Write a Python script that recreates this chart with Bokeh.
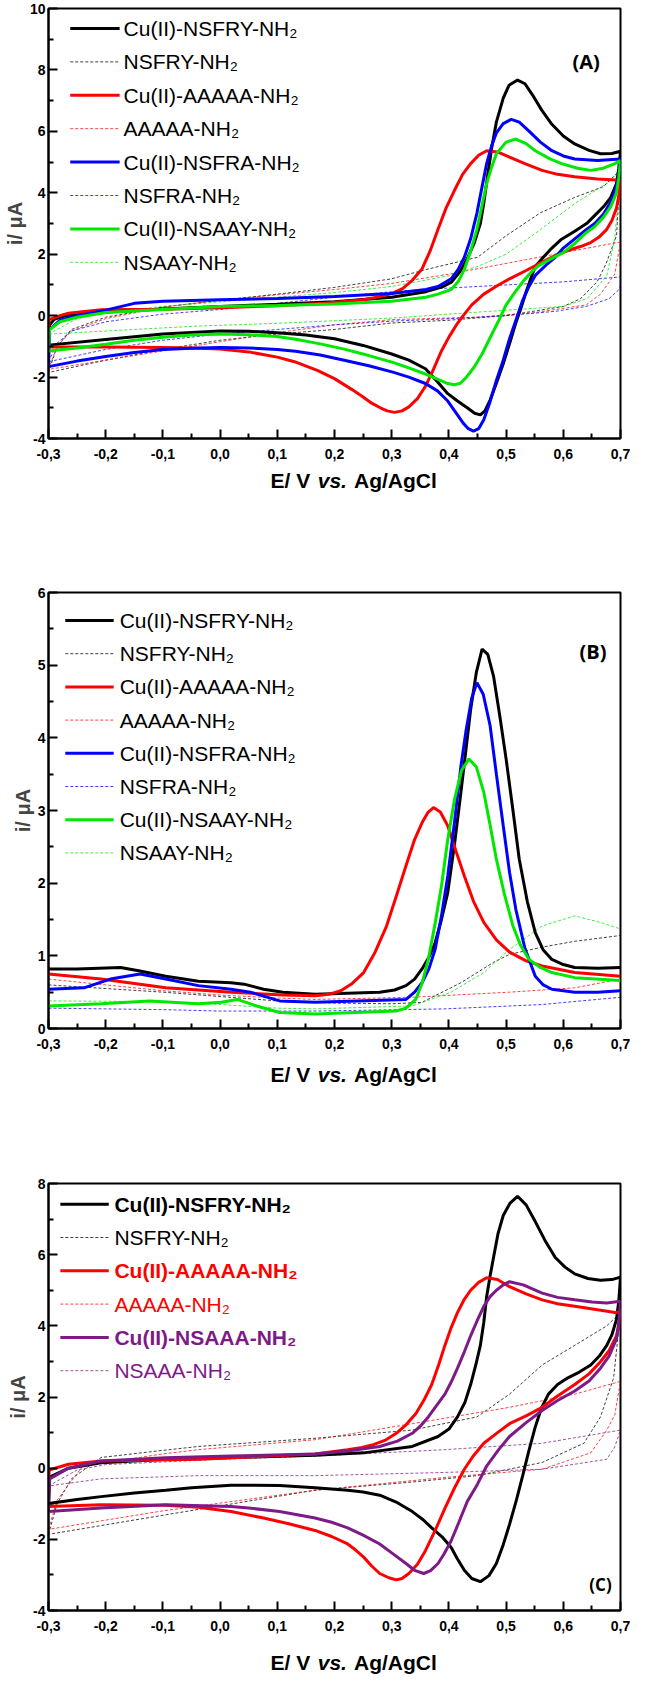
from bokeh.plotting import figure
from bokeh.models import FixedTicker, CustomJSTickFormatter, Label
from bokeh.layouts import column
from bokeh.core.properties import value
from bokeh.embed import file_html
from bokeh.resources import INLINE

# ---------------- DATA ----------------
X_TICKS = [-0.3, -0.2, -0.1, 0.0, 0.1, 0.2, 0.3, 0.4, 0.5, 0.6, 0.7]
X_MINOR = [-0.25, -0.15, -0.05, 0.05, 0.15, 0.25, 0.35, 0.45, 0.55, 0.65]
A_Y_TICKS = [-4, -2, 0, 2, 4, 6, 8, 10]
A_Y_MINOR = [-3, -1, 1, 3, 5, 7, 9]
B_Y_TICKS = [0, 1, 2, 3, 4, 5, 6]
B_Y_MINOR = [0.5, 1.5, 2.5, 3.5, 4.5, 5.5]
C_Y_TICKS = [-4, -2, 0, 2, 4, 6, 8]
C_Y_MINOR = [-3, -1, 1, 3, 5, 7]

X_TITLE = ["E/ V", "vs.", "Ag/AgCl"]
Y_TITLE = "i/ \u03bcA"

# Panel A: cyclic voltammograms (E / V, i / uA), forward then reverse scan
A_CU_NSFRY_E = [-0.3, -0.298, -0.29, -0.27, -0.2, -0.1, 0.0, 0.1, 0.2, 0.3, 0.36, 0.39, 0.405, 0.42, 0.432, 0.444, 0.455, 0.461, 0.468, 0.475, 0.483, 0.495, 0.505, 0.52, 0.533, 0.546, 0.562, 0.58, 0.6, 0.62, 0.645, 0.665, 0.685, 0.7,
                0.697, 0.693, 0.683, 0.671, 0.656, 0.642, 0.62, 0.597, 0.58, 0.565, 0.551, 0.543, 0.535, 0.527, 0.518, 0.507, 0.495, 0.483, 0.472, 0.463, 0.455, 0.445, 0.432, 0.415, 0.398, 0.38, 0.359, 0.33, 0.3, 0.25, 0.2, 0.15, 0.1, 0.05, 0.0, -0.1, -0.2, -0.3]
A_CU_NSFRY_I = [-0.96, -0.3, -0.12, 0.0, 0.12, 0.22, 0.3, 0.37, 0.45, 0.6, 0.78, 0.95, 1.1, 1.45, 1.85, 2.35, 3.0, 3.66, 4.6, 5.48, 6.3, 7.08, 7.5, 7.67, 7.55, 7.19, 6.7, 6.23, 5.85, 5.59, 5.38, 5.27, 5.28, 5.35,
                4.8, 4.3, 3.85, 3.56, 3.28, 3.02, 2.75, 2.49, 2.2, 1.9, 1.6, 1.2, 0.78, 0.3, -0.18, -0.85, -1.57, -2.2, -2.75, -3.1, -3.23, -3.18, -3.0, -2.78, -2.54, -2.15, -1.73, -1.45, -1.25, -0.97, -0.75, -0.63, -0.56, -0.51, -0.5, -0.6, -0.78, -0.96]
A_CU_AAAAA_E = [-0.3, -0.299, -0.28, -0.265, -0.208, -0.1, 0.0, 0.1, 0.183, 0.25, 0.279, 0.3, 0.319, 0.336, 0.353, 0.367, 0.381, 0.395, 0.41, 0.424, 0.438, 0.452, 0.466, 0.485, 0.506, 0.535, 0.563, 0.59, 0.62, 0.66, 0.7,
                0.697, 0.693, 0.685, 0.676, 0.662, 0.648, 0.63, 0.608, 0.585, 0.563, 0.535, 0.506, 0.485, 0.461, 0.44, 0.425, 0.415, 0.4, 0.387, 0.373, 0.359, 0.345, 0.33, 0.318, 0.305, 0.292, 0.28, 0.265, 0.25, 0.23, 0.2, 0.17, 0.13, 0.1, 0.05, 0.0, -0.05, -0.1, -0.2, -0.3]
A_CU_AAAAA_I = [-1.02, -0.13, 0.0, 0.08, 0.19, 0.21, 0.26, 0.32, 0.4, 0.52, 0.62, 0.72, 0.88, 1.15, 1.52, 2.1, 2.81, 3.5, 4.09, 4.6, 4.95, 5.22, 5.37, 5.33, 5.16, 4.93, 4.73, 4.6, 4.52, 4.45, 4.41,
                3.9, 3.5, 3.1, 2.81, 2.55, 2.38, 2.25, 2.12, 1.95, 1.74, 1.47, 1.2, 0.98, 0.7, 0.35, 0.0, -0.25, -0.7, -1.15, -1.75, -2.3, -2.7, -2.97, -3.1, -3.15, -3.1, -3.0, -2.85, -2.65, -2.4, -2.05, -1.78, -1.5, -1.35, -1.18, -1.09, -1.05, -1.04, -1.02, -1.02]
A_CU_NSFRA_E = [-0.3, -0.298, -0.28, -0.25, -0.2, -0.15, -0.1, 0.0, 0.1, 0.2, 0.3, 0.36, 0.381, 0.404, 0.416, 0.427, 0.438, 0.449, 0.458, 0.466, 0.475, 0.483, 0.495, 0.509, 0.523, 0.54, 0.56, 0.58, 0.6, 0.62, 0.66, 0.7,
                0.697, 0.693, 0.683, 0.67, 0.655, 0.64, 0.62, 0.6, 0.586, 0.57, 0.551, 0.54, 0.529, 0.518, 0.506, 0.495, 0.483, 0.472, 0.461, 0.452, 0.443, 0.434, 0.425, 0.41, 0.398, 0.38, 0.359, 0.33, 0.302, 0.26, 0.217, 0.175, 0.132, 0.1, 0.05, 0.0, -0.05, -0.1, -0.15, -0.2, -0.25, -0.3]
A_CU_NSFRA_I = [-1.66, -0.45, -0.15, 0.0, 0.18, 0.4, 0.47, 0.52, 0.56, 0.62, 0.72, 0.85, 0.95, 1.2, 1.5, 1.9, 2.5, 3.34, 4.2, 4.95, 5.55, 5.95, 6.25, 6.39, 6.3, 6.01, 5.65, 5.37, 5.2, 5.1, 5.05, 5.1,
                4.6, 4.2, 3.7, 3.3, 3.0, 2.8, 2.5, 2.2, 1.9, 1.65, 1.31, 0.95, 0.5, -0.1, -0.75, -1.45, -2.11, -2.8, -3.39, -3.68, -3.76, -3.68, -3.5, -3.1, -2.78, -2.45, -2.21, -2.0, -1.84, -1.63, -1.45, -1.28, -1.16, -1.1, -1.05, -1.04, -1.06, -1.1, -1.2, -1.33, -1.48, -1.66]
A_CU_NSAAY_E = [-0.3, -0.298, -0.28, -0.25, -0.2, -0.1, 0.0, 0.1, 0.2, 0.3, 0.36, 0.381, 0.404, 0.416, 0.427, 0.438, 0.449, 0.458, 0.466, 0.475, 0.483, 0.5, 0.517, 0.535, 0.551, 0.575, 0.597, 0.625, 0.648, 0.67, 0.69, 0.7,
                0.697, 0.693, 0.683, 0.67, 0.655, 0.64, 0.62, 0.6, 0.578, 0.557, 0.543, 0.529, 0.515, 0.5, 0.486, 0.472, 0.458, 0.444, 0.43, 0.42, 0.41, 0.398, 0.38, 0.359, 0.33, 0.302, 0.26, 0.217, 0.175, 0.132, 0.1, 0.05, 0.0, -0.05, -0.1, -0.15, -0.2, -0.25, -0.3]
A_CU_NSAAY_I = [-1.15, -0.45, -0.2, -0.05, 0.1, 0.2, 0.3, 0.33, 0.38, 0.47, 0.6, 0.7, 0.85, 1.1, 1.5, 2.1, 2.81, 3.6, 4.3, 4.85, 5.27, 5.65, 5.75, 5.6, 5.37, 5.12, 4.95, 4.8, 4.73, 4.8, 4.95, 5.05,
                4.5, 4.0, 3.55, 3.2, 2.9, 2.7, 2.35, 2.05, 1.85, 1.63, 1.4, 1.1, 0.75, 0.35, -0.2, -0.72, -1.25, -1.68, -2.02, -2.2, -2.25, -2.21, -2.07, -1.9, -1.7, -1.52, -1.3, -1.09, -0.92, -0.77, -0.68, -0.62, -0.6, -0.63, -0.7, -0.8, -0.93, -1.05, -1.15]
A_NSFRY_E = [-0.3, -0.285, -0.26, -0.2, -0.1, 0.0, 0.1, 0.2, 0.3, 0.36, 0.45, 0.5, 0.56, 0.62, 0.67, 0.7,
             0.693, 0.675, 0.659, 0.63, 0.6, 0.5, 0.4, 0.3, 0.2, 0.1, 0.0, -0.1, -0.2, -0.3]
A_NSFRY_I = [-1.85, -1.0, -0.45, -0.05, 0.28, 0.5, 0.7, 0.92, 1.2, 1.5, 1.9, 2.6, 3.35, 3.85, 4.2, 4.75,
             2.6, 1.7, 1.1, 0.55, 0.3, 0.0, -0.15, -0.24, -0.45, -0.6, -0.8, -1.1, -1.45, -1.85]
A_AAAAA_E = [-0.3, -0.285, -0.26, -0.2, -0.1, 0.0, 0.1, 0.2, 0.3, 0.4, 0.5, 0.6, 0.7,
             0.69, 0.665, 0.64, 0.55, 0.45, 0.3, 0.2, 0.1, 0.0, -0.1, -0.2, -0.3]
A_AAAAA_I = [-1.75, -1.0, -0.5, -0.1, 0.28, 0.5, 0.68, 0.85, 1.05, 1.35, 1.7, 2.05, 2.4,
             1.35, 0.7, 0.35, 0.1, -0.05, -0.13, -0.3, -0.55, -0.85, -1.15, -1.45, -1.75]
A_NSFRA_E = [-0.3, -0.285, -0.26, -0.2, -0.1, 0.0, 0.1, 0.2, 0.3, 0.4, 0.5, 0.6, 0.7,
             0.699, 0.68, 0.64, 0.586, 0.5, 0.4, 0.3, 0.2, 0.1, 0.0, -0.1, -0.2, -0.3]
A_NSFRA_I = [-1.5, -0.9, -0.5, -0.2, 0.05, 0.2, 0.4, 0.6, 0.78, 0.9, 1.0, 1.1, 1.26,
             0.88, 0.55, 0.3, 0.14, 0.0, -0.1, -0.18, -0.3, -0.45, -0.6, -0.8, -1.1, -1.5]
A_NSAAY_E = [-0.3, -0.25, -0.2, -0.1, 0.0, 0.1, 0.2, 0.3, 0.4, 0.45, 0.5, 0.56, 0.62, 0.68, 0.7,
             0.69, 0.676, 0.642, 0.6, 0.47, 0.3, 0.1, -0.04, -0.2, -0.3]
A_NSAAY_I = [-0.6, -0.1, 0.1, 0.3, 0.45, 0.6, 0.75, 0.95, 1.3, 1.6, 2.0, 2.8, 3.65, 4.35, 4.75,
             2.5, 1.3, 0.56, 0.3, 0.14, -0.08, -0.25, -0.34, -0.5, -0.6]

# Panel B: differential pulse voltammograms
B_CU_NSFRY_E = [-0.3, -0.25, -0.174, -0.14, -0.095, -0.038, 0.019, 0.042, 0.076, 0.11, 0.166, 0.279, 0.305, 0.325, 0.34, 0.353, 0.365, 0.376, 0.387, 0.398, 0.41, 0.421, 0.43, 0.438, 0.448, 0.458, 0.468, 0.478, 0.489, 0.5, 0.512, 0.523, 0.537, 0.551, 0.565, 0.58, 0.6, 0.62, 0.66, 0.7]
B_CU_NSFRY_I = [0.82, 0.82, 0.84, 0.79, 0.72, 0.65, 0.63, 0.61, 0.54, 0.5, 0.47, 0.5, 0.53, 0.59, 0.68, 0.82, 0.98, 1.18, 1.5, 1.87, 2.55, 3.25, 3.85, 4.39, 4.9, 5.22, 5.15, 4.85, 4.3, 3.71, 3.0, 2.33, 1.75, 1.32, 1.08, 0.95, 0.88, 0.84, 0.83, 0.84]
B_CU_AAAAA_E = [-0.3, -0.208, -0.095, 0.019, 0.11, 0.166, 0.19, 0.211, 0.231, 0.251, 0.271, 0.291, 0.308, 0.325, 0.34, 0.353, 0.363, 0.373, 0.385, 0.398, 0.412, 0.427, 0.443, 0.461, 0.483, 0.506, 0.535, 0.563, 0.62, 0.7]
B_CU_AAAAA_I = [0.75, 0.68, 0.56, 0.5, 0.46, 0.45, 0.47, 0.52, 0.62, 0.77, 1.05, 1.41, 1.82, 2.24, 2.6, 2.83, 2.97, 3.04, 2.98, 2.79, 2.45, 2.1, 1.75, 1.46, 1.22, 1.05, 0.93, 0.86, 0.77, 0.72]
B_CU_NSFRA_E = [-0.3, -0.238, -0.192, -0.14, -0.095, -0.038, 0.019, 0.053, 0.104, 0.166, 0.325, 0.34, 0.353, 0.365, 0.376, 0.387, 0.398, 0.41, 0.421, 0.43, 0.44, 0.449, 0.46, 0.472, 0.483, 0.495, 0.506, 0.517, 0.533, 0.551, 0.565, 0.58, 0.62, 0.66, 0.7]
B_CU_NSFRA_I = [0.54, 0.56, 0.68, 0.75, 0.68, 0.59, 0.54, 0.5, 0.38, 0.36, 0.4, 0.5, 0.63, 0.82, 1.09, 1.55, 2.1, 2.85, 3.61, 4.1, 4.55, 4.76, 4.6, 4.17, 3.5, 2.79, 2.15, 1.64, 1.1, 0.72, 0.6, 0.54, 0.5, 0.5, 0.52]
B_CU_NSAAY_E = [-0.3, -0.208, -0.123, -0.038, 0.002, 0.03, 0.064, 0.104, 0.166, 0.308, 0.325, 0.342, 0.353, 0.364, 0.376, 0.387, 0.398, 0.41, 0.422, 0.435, 0.448, 0.461, 0.472, 0.483, 0.497, 0.512, 0.525, 0.54, 0.56, 0.58, 0.62, 0.7]
B_CU_NSAAY_I = [0.31, 0.34, 0.38, 0.34, 0.36, 0.4, 0.31, 0.22, 0.2, 0.24, 0.28, 0.4, 0.62, 0.95, 1.45, 1.96, 2.6, 3.16, 3.55, 3.71, 3.6, 3.25, 2.8, 2.33, 1.85, 1.41, 1.15, 0.95, 0.84, 0.77, 0.7, 0.66]
B_NSFRY_E = [-0.3, -0.2, -0.1, 0.0, 0.1, 0.2, 0.3, 0.353, 0.421, 0.478, 0.506, 0.563, 0.62, 0.7]
B_NSFRY_I = [0.6, 0.55, 0.5, 0.44, 0.38, 0.35, 0.34, 0.36, 0.63, 0.91, 1.02, 1.12, 1.2, 1.28]
B_AAAAA_E = [-0.3, -0.2, -0.1, 0.0, 0.1, 0.166, 0.336, 0.506, 0.62, 0.7]
B_AAAAA_I = [0.68, 0.6, 0.52, 0.46, 0.42, 0.4, 0.43, 0.5, 0.56, 0.68]
B_NSFRA_E = [-0.3, -0.2, -0.1, 0.0, 0.166, 0.393, 0.563, 0.7]
B_NSFRA_I = [0.28, 0.27, 0.26, 0.24, 0.24, 0.27, 0.33, 0.43]
B_NSAAY_E = [-0.3, -0.1, 0.0, 0.1, 0.166, 0.336, 0.404, 0.461, 0.506, 0.563, 0.62, 0.665, 0.7]
B_NSAAY_I = [0.38, 0.37, 0.33, 0.28, 0.27, 0.31, 0.5, 0.77, 1.09, 1.41, 1.55, 1.46, 1.37]

# Panel C: cyclic voltammograms
C_CU_NSFRY_E = [-0.3, -0.298, -0.265, -0.208, -0.095, 0.019, 0.166, 0.251, 0.336, 0.381, 0.4, 0.415, 0.428, 0.438, 0.447, 0.455, 0.461, 0.466, 0.472, 0.478, 0.486, 0.495, 0.507, 0.52, 0.535, 0.551, 0.568, 0.586, 0.603, 0.62, 0.643, 0.665, 0.685, 0.7,
                0.697, 0.693, 0.685, 0.676, 0.663, 0.648, 0.628, 0.608, 0.59, 0.574, 0.562, 0.551, 0.54, 0.529, 0.518, 0.506, 0.495, 0.483, 0.47, 0.455, 0.44, 0.427, 0.415, 0.404, 0.388, 0.37, 0.355, 0.336, 0.31, 0.279, 0.25, 0.223, 0.166, 0.104, 0.05, 0.019, -0.05, -0.095, -0.15, -0.208, -0.25, -0.3]
C_CU_NSFRY_I = [-0.99, -0.25, 0.0, 0.15, 0.25, 0.3, 0.36, 0.43, 0.61, 0.89, 1.1, 1.44, 1.85, 2.35, 2.9, 3.45, 4.1, 4.82, 5.4, 5.92, 6.6, 7.1, 7.45, 7.64, 7.4, 6.93, 6.4, 5.92, 5.65, 5.46, 5.33, 5.28, 5.3, 5.37,
                4.7, 4.18, 3.75, 3.45, 3.15, 2.9, 2.7, 2.54, 2.35, 2.08, 1.7, 1.16, 0.5, -0.21, -0.9, -1.58, -2.15, -2.68, -3.02, -3.19, -3.1, -2.87, -2.55, -2.23, -1.93, -1.68, -1.45, -1.22, -0.97, -0.76, -0.67, -0.62, -0.55, -0.49, -0.48, -0.48, -0.55, -0.62, -0.7, -0.8, -0.88, -0.99]
C_CU_AAAAA_E = [-0.3, -0.299, -0.265, -0.208, -0.038, 0.166, 0.223, 0.248, 0.268, 0.288, 0.308, 0.325, 0.342, 0.356, 0.37, 0.382, 0.393, 0.404, 0.415, 0.426, 0.438, 0.452, 0.466, 0.485, 0.506, 0.535, 0.563, 0.59, 0.62, 0.66, 0.693, 0.7,
                0.697, 0.693, 0.68, 0.665, 0.645, 0.62, 0.59, 0.563, 0.535, 0.506, 0.485, 0.461, 0.443, 0.427, 0.41, 0.393, 0.376, 0.359, 0.345, 0.33, 0.318, 0.308, 0.295, 0.279, 0.265, 0.251, 0.237, 0.223, 0.195, 0.166, 0.12, 0.076, 0.019, -0.038, -0.095, -0.208, -0.3]
C_CU_AAAAA_I = [-1.08, -0.05, 0.11, 0.2, 0.25, 0.4, 0.52, 0.58, 0.66, 0.78, 0.98, 1.22, 1.53, 1.9, 2.35, 2.9, 3.45, 3.95, 4.37, 4.72, 5.0, 5.22, 5.35, 5.3, 5.1, 4.9, 4.73, 4.62, 4.55, 4.45, 4.37, 4.41,
                4.0, 3.72, 3.3, 2.99, 2.65, 2.35, 2.03, 1.71, 1.47, 1.25, 1.0, 0.7, 0.35, -0.03, -0.55, -1.13, -1.75, -2.32, -2.7, -2.96, -3.1, -3.14, -3.08, -2.96, -2.75, -2.5, -2.3, -2.13, -1.92, -1.75, -1.56, -1.4, -1.22, -1.1, -1.04, -1.03, -1.08]
C_CU_NSAAA_E = [-0.3, -0.298, -0.265, -0.208, -0.095, 0.019, 0.166, 0.223, 0.279, 0.31, 0.336, 0.35, 0.364, 0.378, 0.393, 0.404, 0.415, 0.427, 0.438, 0.45, 0.461, 0.472, 0.483, 0.495, 0.506, 0.53, 0.563, 0.59, 0.62, 0.65, 0.676, 0.7,
                0.697, 0.693, 0.68, 0.665, 0.645, 0.62, 0.59, 0.563, 0.535, 0.506, 0.486, 0.466, 0.45, 0.432, 0.418, 0.404, 0.392, 0.381, 0.368, 0.356, 0.34, 0.325, 0.3, 0.279, 0.25, 0.223, 0.195, 0.166, 0.104, 0.05, 0.019, -0.095, -0.208, -0.3]
C_CU_NSAAA_I = [-1.22, -0.3, 0.0, 0.2, 0.29, 0.34, 0.4, 0.48, 0.61, 0.76, 0.98, 1.18, 1.44, 1.75, 2.08, 2.42, 2.81, 3.27, 3.72, 4.17, 4.55, 4.82, 5.0, 5.15, 5.24, 5.15, 4.92, 4.8, 4.73, 4.67, 4.64, 4.69,
                4.1, 3.63, 3.15, 2.81, 2.45, 2.17, 1.9, 1.62, 1.28, 0.89, 0.5, 0.06, -0.45, -0.94, -1.5, -2.04, -2.4, -2.68, -2.88, -2.96, -2.87, -2.68, -2.38, -2.13, -1.88, -1.68, -1.52, -1.4, -1.22, -1.12, -1.08, -1.03, -1.12, -1.22]
C_NSFRY_E = [-0.3, -0.285, -0.26, -0.208, -0.1, -0.038, 0.166, 0.336, 0.449, 0.506, 0.563, 0.62, 0.676, 0.7,
             0.688, 0.665, 0.636, 0.563, 0.449, 0.336, 0.166, -0.095, -0.3]
C_NSFRY_I = [-1.86, -1.0, -0.3, 0.3, 0.5, 0.61, 0.84, 1.07, 1.44, 2.08, 2.9, 3.45, 4.0, 4.37,
             2.54, 1.44, 0.7, 0.16, -0.21, -0.39, -0.62, -1.31, -1.86]
C_AAAAA_E = [-0.3, -0.285, -0.24, -0.1, -0.038, 0.166, 0.336, 0.506, 0.62, 0.7,
             0.69, 0.676, 0.648, 0.563, 0.393, 0.166, -0.1, -0.3]
C_AAAAA_I = [-1.72, -0.9, 0.06, 0.4, 0.52, 0.8, 1.25, 1.71, 2.08, 2.44,
             1.5, 1.07, 0.43, -0.03, -0.26, -0.62, -1.2, -1.72]
C_NSAAA_E = [-0.3, -0.25, -0.2, 0.0, 0.166, 0.393, 0.563, 0.7,
             0.69, 0.676, 0.563, 0.393, 0.166, -0.038, -0.208, -0.3]
C_NSAAA_I = [-0.5, -0.05, 0.1, 0.25, 0.34, 0.52, 0.7, 1.07,
             0.6, 0.25, -0.03, -0.12, -0.21, -0.21, -0.3, -0.5]

LBL_CU_NSFRY = "Cu(II)-NSFRY-NH\u2082"
LBL_NSFRY = "NSFRY-NH\u2082"
LBL_CU_AAAAA = "Cu(II)-AAAAA-NH\u2082"
LBL_AAAAA = "AAAAA-NH\u2082"
LBL_CU_NSFRA = "Cu(II)-NSFRA-NH\u2082"
LBL_NSFRA = "NSFRA-NH\u2082"
LBL_CU_NSAAY = "Cu(II)-NSAAY-NH\u2082"
LBL_NSAAY = "NSAAY-NH\u2082"
LBL_CU_NSAAA = "Cu(II)-NSAAA-NH\u2082"
LBL_NSAAA = "NSAAA-NH\u2082"

# ---------------- STYLE ----------------
FONT = "Liberation Sans"
BLACK = "#000000"
RED = "#ff0000"
BLUE = "#0000ff"
GREEN = "#00e800"
PURPLE = "#7d1a87"

W = 630
BL, BR = 41, 10
FW = W - BL - BR
BB = 28


def make_panel(height, btop, ymin, ymax, yticks, yminor):
    p = figure(width=W, height=height, x_range=(-0.3, 0.7), y_range=(ymin, ymax),
               output_backend="svg", toolbar_location=None,
               min_border_left=BL, min_border_right=BR,
               min_border_top=btop, min_border_bottom=BB)
    p.xgrid.visible = False
    p.ygrid.visible = False
    p.outline_line_color = "black"
    p.outline_line_width = 2
    p.background_fill_color = "white"
    p.border_fill_color = "white"
    for ax in (p.xaxis[0], p.yaxis[0]):
        ax.axis_line_width = 2
        ax.major_tick_line_width = 2
        ax.minor_tick_line_width = 2
        ax.major_tick_in = 9
        ax.major_tick_out = 0
        ax.minor_tick_in = 5
        ax.minor_tick_out = 0
        ax.major_label_text_font = FONT
        ax.major_label_text_font_style = "bold"
        ax.major_label_text_font_size = "14px"
        ax.major_label_text_color = "black"
    p.xaxis.ticker = FixedTicker(ticks=X_TICKS, minor_ticks=X_MINOR)
    p.xaxis.formatter = CustomJSTickFormatter(code="return tick.toFixed(1).replace('.', ',');")
    p.xaxis.major_label_standoff = 10
    p.yaxis.ticker = FixedTicker(ticks=yticks, minor_ticks=yminor)
    p.yaxis.formatter = CustomJSTickFormatter(code="return tick.toFixed(0);")
    p.yaxis.major_label_standoff = 3
    p.yaxis.axis_label = Y_TITLE
    p.yaxis.axis_label_text_font = FONT
    p.yaxis.axis_label_text_font_style = "bold"
    p.yaxis.axis_label_text_font_size = "20px"
    p.yaxis.axis_label_standoff = 1
    fh = height - btop - BB
    pxu = fh / (ymax - ymin)
    return p, pxu


def make_strip(h, cy):
    s = figure(width=W, height=h, x_range=(0, W), y_range=(0, h), output_backend="svg",
               toolbar_location=None, x_axis_location=None, y_axis_location=None,
               min_border_left=0, min_border_right=0, min_border_top=0, min_border_bottom=0)
    s.grid.visible = False
    s.outline_line_color = None
    s.background_fill_color = "white"
    s.border_fill_color = "white"
    cx = BL + FW / 2.0
    starts = [cx - 86, cx - 34, cx + 6]
    styles = ["bold", "bold italic", "bold"]
    for t, x0, st in zip(X_TITLE, starts, styles):
        s.text(x=[x0], y=[h - cy], text=[t], text_font=value(FONT), text_font_style=st,
               text_font_size="21px", text_baseline="middle", text_align="left", text_color="black")
    return s


def px_to_e(px):
    return -0.3 + px / FW


def add_legend(p, ymax, pxu, entries, y0, pitch, lx0, lx1, tx):
    for k, (text, color, is_solid, tcolor, tstyle) in enumerate(entries):
        ypx = y0 + k * pitch
        yv = ymax - ypx / pxu
        if is_solid:
            p.line([px_to_e(lx0), px_to_e(lx1)], [yv, yv], line_color=color, line_width=3)
        else:
            p.line([px_to_e(lx0), px_to_e(lx1)], [yv, yv], line_color=color, line_width=1,
                   line_dash="3 2", line_alpha=0.75)
        p.add_layout(Label(x=px_to_e(tx), y=yv, text=text, text_font=FONT, text_font_style=tstyle,
                           text_font_size="21px", text_baseline="middle", text_align="left",
                           text_color=tcolor))


def solid(p, e, i, c):
    p.line(e, i, line_color=c, line_width=3)


def dashed(p, e, i, c):
    p.line(e, i, line_color=c, line_width=1, line_dash="3 2", line_alpha=0.75)


def tag(p, text, e, ymax, pxu, ypx, size):
    p.add_layout(Label(x=e, y=ymax - ypx / pxu, text=text, text_font="Open Sans", text_font_style="bold",
                       text_font_size=size, text_baseline="middle", text_align="center", text_color="black"))


# ---------------- PANEL A ----------------
pA, pxuA = make_panel(466, 8, -4, 10, A_Y_TICKS, A_Y_MINOR)
dashed(pA, A_NSFRY_E, A_NSFRY_I, BLACK)
dashed(pA, A_AAAAA_E, A_AAAAA_I, RED)
dashed(pA, A_NSFRA_E, A_NSFRA_I, BLUE)
dashed(pA, A_NSAAY_E, A_NSAAY_I, GREEN)
solid(pA, A_CU_NSFRY_E, A_CU_NSFRY_I, BLACK)
solid(pA, A_CU_AAAAA_E, A_CU_AAAAA_I, RED)
solid(pA, A_CU_NSFRA_E, A_CU_NSFRA_I, BLUE)
solid(pA, A_CU_NSAAY_E, A_CU_NSAAY_I, GREEN)
legAB = [(LBL_CU_NSFRY, BLACK, True, "black", "normal"), (LBL_NSFRY, BLACK, False, "black", "normal"),
         (LBL_CU_AAAAA, RED, True, "black", "normal"), (LBL_AAAAA, RED, False, "black", "normal"),
         (LBL_CU_NSFRA, BLUE, True, "black", "normal"), (LBL_NSFRA, BLUE, False, "black", "normal"),
         (LBL_CU_NSAAY, GREEN, True, "black", "normal"), (LBL_NSAAY, GREEN, False, "black", "normal")]
add_legend(pA, 10, pxuA, legAB, 20, 33.4, 22, 72, 76)
tag(pA, "(A)", 0.64, 10, pxuA, 53, "20px")
sA = make_strip(28, 14)

# ---------------- PANEL B ----------------
pB, pxuB = make_panel(562, 98, 0, 6, B_Y_TICKS, B_Y_MINOR)
dashed(pB, B_NSFRY_E, B_NSFRY_I, BLACK)
dashed(pB, B_AAAAA_E, B_AAAAA_I, RED)
dashed(pB, B_NSFRA_E, B_NSFRA_I, BLUE)
dashed(pB, B_NSAAY_E, B_NSAAY_I, GREEN)
solid(pB, B_CU_NSFRY_E, B_CU_NSFRY_I, BLACK)
solid(pB, B_CU_AAAAA_E, B_CU_AAAAA_I, RED)
solid(pB, B_CU_NSFRA_E, B_CU_NSFRA_I, BLUE)
solid(pB, B_CU_NSAAY_E, B_CU_NSAAY_I, GREEN)
add_legend(pB, 6, pxuB, legAB, 28, 33.2, 17, 66, 72)
tag(pB, "(B)", 0.652, 6, pxuB, 59, "20px")
sB = make_strip(36, 18)

# ---------------- PANEL C ----------------
pC, pxuC = make_panel(546, 91, -4, 8, C_Y_TICKS, C_Y_MINOR)
dashed(pC, C_NSFRY_E, C_NSFRY_I, BLACK)
dashed(pC, C_AAAAA_E, C_AAAAA_I, RED)
dashed(pC, C_NSAAA_E, C_NSAAA_I, PURPLE)
solid(pC, C_CU_NSFRY_E, C_CU_NSFRY_I, BLACK)
solid(pC, C_CU_AAAAA_E, C_CU_AAAAA_I, RED)
solid(pC, C_CU_NSAAA_E, C_CU_NSAAA_I, PURPLE)
legC = [(LBL_CU_NSFRY, BLACK, True, BLACK, "bold"), (LBL_NSFRY, BLACK, False, BLACK, "normal"),
        (LBL_CU_AAAAA, RED, True, RED, "bold"), (LBL_AAAAA, RED, False, RED, "normal"),
        (LBL_CU_NSAAA, PURPLE, True, PURPLE, "bold"), (LBL_NSAAA, PURPLE, False, PURPLE, "normal")]
add_legend(pC, 8, pxuC, legC, 20.7, 33.3, 12, 61, 66.7)
tag(pC, "(C)", 0.665, 8, pxuC, 427 - 26, "17px")
sC = make_strip(42, 24)

layout = column(pA, sA, pB, sB, pC, sC)
open("out.html", "w").write(file_html(layout, INLINE))
